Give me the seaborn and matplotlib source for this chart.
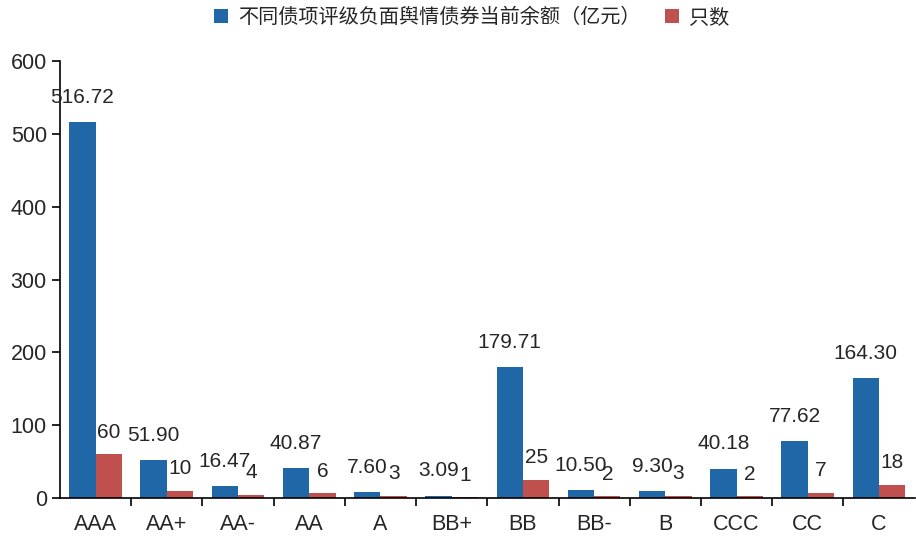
import numpy as np
import pandas as pd
import matplotlib
matplotlib.use('Agg')
import matplotlib.pyplot as plt
import seaborn as sns
from matplotlib.ticker import FixedLocator

# Dados
categorias = ['AAA', 'AA+', 'AA-', 'AA', 'A', 'BB+', 'BB', 'BB-', 'B', 'CCC', 'CC', 'C']
saldo = [516.72, 51.90, 16.47, 40.87, 7.60, 3.09, 179.71, 10.50, 9.30, 40.18, 77.62, 164.30]
quantidade = [60, 10, 4, 6, 3, 1, 25, 2, 3, 2, 7, 18]
serie_saldo = '不同债项评级负面舆情债券当前余额（亿元）'
serie_qtd = '只数'

AZUL = '#1F67A6'
VERMELHO = '#C0504D'

df = pd.DataFrame({
    'cat': categorias * 2,
    'valor': saldo + quantidade,
    'serie': [serie_saldo] * len(categorias) + [serie_qtd] * len(categorias),
})

sns.set_style('white')
plt.rcParams['font.family'] = ['Liberation Sans', 'Noto Sans CJK SC', 'DejaVu Sans']

fig = plt.figure(figsize=(9.16, 5.37), dpi=100)
ax = fig.add_axes([0.0655, 0.073, 0.933, 0.813])

sns.barplot(data=df, x='cat', y='valor', hue='serie', order=categorias,
            hue_order=[serie_saldo, serie_qtd], palette=[AZUL, VERMELHO],
            width=0.74, saturation=1, linewidth=0, ax=ax, legend=True)

rotulos = [[f'{v:.2f}' for v in saldo], [str(v) for v in quantidade]]
for cont, labs, pad in zip(ax.containers, rotulos, [11, 9]):
    ax.bar_label(cont, labels=labs, padding=pad, fontsize=15)

ax.set_xlim(-0.5, 11.5)
ax.set_ylim(0, 600)
ax.set_yticks(range(0, 601, 100))
ax.set_xlabel('')
ax.set_ylabel('')
ax.tick_params(axis='y', labelsize=15.5, length=6, width=1.2, direction='out', left=True, color='black')
ax.tick_params(axis='x', which='major', labelsize=15.5, length=0, pad=12)
ax.xaxis.set_minor_locator(FixedLocator(np.arange(0.5, 11.5, 1)))
ax.tick_params(axis='x', which='minor', length=6, width=1.2, direction='out', bottom=True, color='black')
for s in ['top', 'right']:
    ax.spines[s].set_visible(False)
for s in ['left', 'bottom']:
    ax.spines[s].set_color('black')
    ax.spines[s].set_linewidth(1.2)

handles, labels = ax.get_legend_handles_labels()
ax.legend(handles, labels, loc='upper center', bbox_to_anchor=(0.482, 1.165), ncol=2,
          frameon=False, handlelength=0.7, handleheight=0.7, handletextpad=0.5,
          columnspacing=1.2, prop={'family': ['Noto Sans CJK SC'], 'size': 14.5})

fig.savefig('out.png', dpi=100)
